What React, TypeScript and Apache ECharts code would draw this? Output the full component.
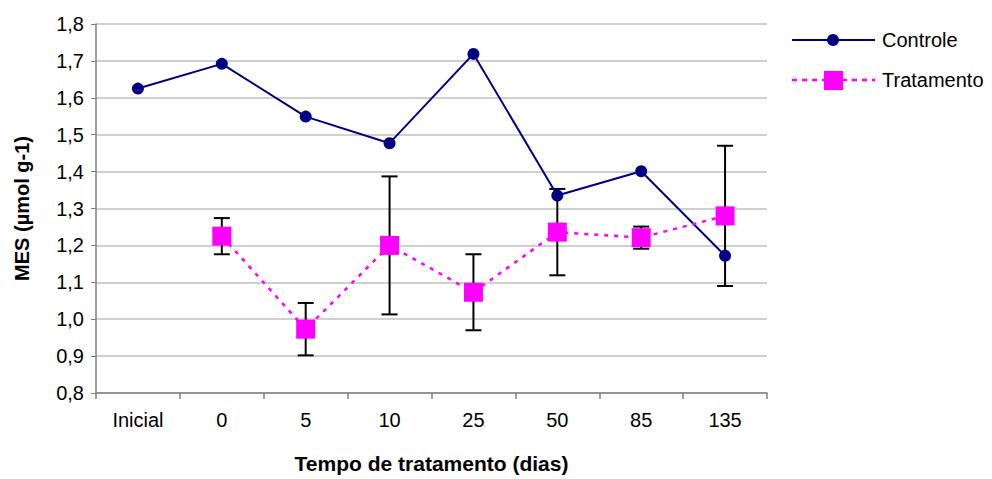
import React, { useEffect, useRef } from "react";
import * as echarts from "echarts";

const categories = ["Inicial", "0", "5", "10", "25", "50", "85", "135"];
const controle = [1.625, 1.692, 1.549, 1.477, 1.719, 1.335, 1.401, 1.172];
const tratamento: (number | null)[] = [null, 1.225, 0.973, 1.2, 1.073, 1.236, 1.221, 1.28];
const tratamentoErr: (number | null)[] = [null, 0.049, 0.071, 0.187, 0.103, 0.117, 0.03, 0.19];

const FONT = "'Liberation Sans', Arial, sans-serif";

function errorData(vals: (number | null)[], errs: (number | null)[]) {
  const out: number[][] = [];
  vals.forEach((v, i) => {
    const e = errs[i];
    if (v != null && e != null) out.push([i, v - e, v + e]);
  });
  return out;
}

function errorSeries(name: string, data: number[][]) {
  return {
    type: "custom",
    name,
    z: 1,
    silent: true,
    data,
    renderItem: (params: any, api: any) => {
      const x = api.value(0);
      const lo = api.coord([x, api.value(1)]);
      const hi = api.coord([x, api.value(2)]);
      const half = 8;
      const style = { stroke: "#000000", lineWidth: 2 };
      return {
        type: "group",
        children: [
          { type: "line", shape: { x1: lo[0], y1: lo[1], x2: hi[0], y2: hi[1] }, style },
          { type: "line", shape: { x1: lo[0] - half, y1: lo[1], x2: lo[0] + half, y2: lo[1] }, style },
          { type: "line", shape: { x1: hi[0] - half, y1: hi[1], x2: hi[0] + half, y2: hi[1] }, style },
        ],
      };
    },
  };
}

export default function App() {
  const ref = useRef<HTMLDivElement>(null);
  useEffect(() => {
    if (!ref.current) return;
    const chart = echarts.init(ref.current, undefined, { renderer: "svg" });
    chart.setOption({
      animation: false,
      backgroundColor: "#ffffff",
      textStyle: { fontFamily: FONT },
      grid: { left: 96, right: 225, top: 24, bottom: 82, containLabel: false },
      xAxis: {
        type: "category",
        data: categories,
        boundaryGap: true,
        name: "Tempo de tratamento (dias)",
        nameLocation: "middle",
        nameGap: 60,
        nameTextStyle: { fontFamily: FONT, fontSize: 21, fontWeight: "bold", color: "#000" },
        axisLine: { lineStyle: { color: "#808080", width: 1.5 } },
        axisTick: { show: true, length: 6, lineStyle: { color: "#808080", width: 1.5 } },
        axisLabel: { fontFamily: FONT, fontSize: 20, color: "#000", margin: 17 },
        splitLine: { show: false },
      },
      yAxis: {
        type: "value",
        min: 0.8,
        max: 1.8,
        interval: 0.1,
        name: "MES (µmol g-1)",
        nameLocation: "middle",
        nameGap: 64,
        nameTextStyle: { fontFamily: FONT, fontSize: 20, fontWeight: "bold", color: "#000" },
        axisLine: { show: true, lineStyle: { color: "#808080", width: 1.5 } },
        axisTick: { show: true, length: 5, inside: false, lineStyle: { color: "#808080", width: 1 } },
        axisLabel: {
          fontFamily: FONT,
          fontSize: 20,
          color: "#000",
          margin: 12,
          formatter: (v: number) => v.toFixed(1).replace(".", ","),
        },
        splitLine: { show: true, lineStyle: { color: "#c0c0c0", width: 1.5 } },
      },
      series: [
        errorSeries("err-t", errorData(tratamento, tratamentoErr)),
        {
          type: "line",
          name: "Controle",
          data: controle,
          z: 3,
          symbol: "circle",
          symbolSize: 12,
          itemStyle: { color: "#000080" },
          lineStyle: { color: "#000080", width: 2 },
        },
        {
          type: "line",
          name: "Tratamento",
          data: tratamento,
          z: 4,
          connectNulls: false,
          symbol: "rect",
          symbolSize: 19,
          itemStyle: { color: "#ff00ff" },
          lineStyle: { color: "#ff00ff", width: 2.5, type: [4, 6] },
        },
      ],
      graphic: [
        { type: "line", shape: { x1: 792, y1: 40, x2: 875, y2: 40 }, style: { stroke: "#000080", lineWidth: 2 } },
        { type: "circle", shape: { cx: 833, cy: 40, r: 6 }, style: { fill: "#000080" } },
        {
          type: "text",
          x: 882,
          y: 40,
          style: { text: "Controle", font: `20px ${FONT}`, fill: "#000", verticalAlign: "middle", align: "left" },
        },
        {
          type: "line",
          shape: { x1: 792, y1: 80, x2: 875, y2: 80 },
          style: { stroke: "#ff00ff", lineWidth: 2.5, lineDash: [5, 5] },
        },
        { type: "rect", shape: { x: 824, y: 71, width: 19, height: 19 }, style: { fill: "#ff00ff" } },
        {
          type: "text",
          x: 882,
          y: 80,
          style: { text: "Tratamento", font: `20px ${FONT}`, fill: "#000", verticalAlign: "middle", align: "left" },
        },
      ],
    });
    return () => chart.dispose();
  }, []);
  return (
    <div
      ref={ref}
      style={{ position: "fixed", left: 0, top: 0, width: 992, height: 479 }}
    />
  );
}
